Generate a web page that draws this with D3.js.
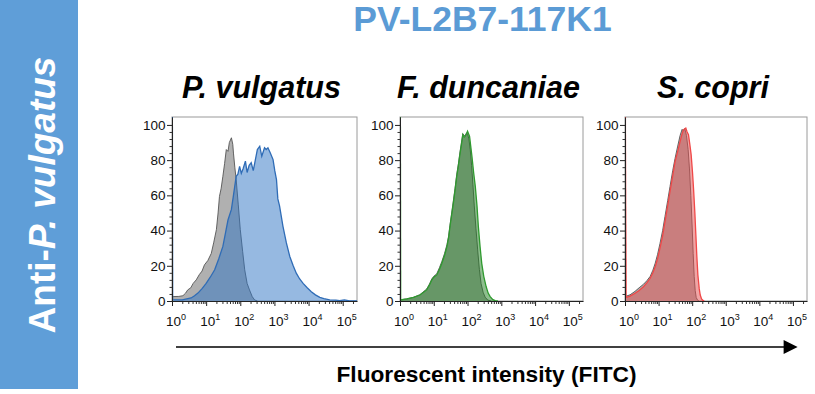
<!DOCTYPE html>
<html><head><meta charset="utf-8">
<script src="https://cdn.jsdelivr.net/npm/d3@7"></script>
<style>
html,body{margin:0;padding:0;background:#fff;}
svg{display:block;font-family:"Liberation Sans",Arial,sans-serif;}
</style></head>
<body>
<svg id="c" width="815" height="394"></svg>
<script>
// ---------------- DATA ----------------
const mainTitle = "PV-L2B7-117K1";
const sideLabelPlain = "Anti-";
const sideLabelItalic = "P. vulgatus";
const panelTitles = ["P. vulgatus", "F. duncaniae", "S. copri"];
const xAxisLabel = "Fluorescent intensity (FITC)";
const yTicks = [0, 20, 40, 60, 80, 100];
const xDecades = [0, 1, 2, 3, 4, 5];           // tick labels 10^n
const xMax = 262144;                             // upper end of the FITC axis
const yMax = 104.5;

// [log10 intensity, % of max]
const pvControl = [[0,2.5],[0.2,2.6],[0.32,3.0],[0.4,4.5],[0.46,6.3],[0.55,7.5],[0.62,10],[0.71,12],[0.8,15],[0.88,17],[0.95,20.5],[1.05,23],[1.15,27],[1.22,33],[1.30,40.5],[1.35,50],[1.39,59.4],[1.44,64],[1.49,70.8],[1.54,78],[1.59,86],[1.64,85],[1.68,90],[1.74,92.7],[1.78,89],[1.80,84],[1.84,76],[1.88,69],[1.94,55],[2.0,40.5],[2.07,28],[2.13,17.7],[2.2,10],[2.27,6.3],[2.35,2.5],[2.42,0.6],[2.5,0]];
const pvStain = [[0,110],[0.01,0.8],[0.3,0.6],[0.56,1.7],[0.66,3],[0.76,4.5],[0.88,7],[1.0,10],[1.12,13.5],[1.25,17.7],[1.37,24],[1.49,31],[1.57,39],[1.64,46],[1.74,52],[1.80,60],[1.88,70.8],[1.93,72],[1.98,76.5],[2.03,72.5],[2.08,75],[2.15,79.4],[2.20,73],[2.26,77],[2.32,78.5],[2.38,74],[2.44,80],[2.50,86],[2.57,87.9],[2.63,82.2],[2.71,87],[2.76,86],[2.81,87],[2.88,84],[2.96,80.3],[3.01,74],[3.06,69],[3.10,58],[3.15,54],[3.25,42.4],[3.35,33],[3.45,25.3],[3.55,20],[3.64,15.8],[3.74,12.5],[3.84,10],[3.96,7.5],[4.08,5.3],[4.2,3.5],[4.33,2.1],[4.45,1.4],[4.62,0.6],[4.8,0.5],[4.91,0.2],[5.05,0.6],[5.2,0],[5.42,0]];
const fdControl = [[0,0.6],[0.2,1.2],[0.4,2.1],[0.59,3.6],[0.79,6.8],[0.87,9.5],[0.94,12.5],[1.0,14],[1.09,15.5],[1.17,19],[1.24,22.5],[1.32,27],[1.39,32],[1.44,37],[1.48,43],[1.53,50],[1.58,57],[1.63,64],[1.68,72],[1.73,78],[1.78,85],[1.82,90],[1.86,95],[1.90,94],[1.93,94],[1.97,95.5],[2.0,95],[2.04,92],[2.08,86],[2.12,77],[2.16,66],[2.20,54],[2.25,41],[2.30,29],[2.35,18],[2.40,10],[2.46,5],[2.52,2.2],[2.6,0.5],[2.7,0]];
const fdStain = [[0,110],[0.01,0.6],[0.2,1.2],[0.4,2.1],[0.59,3.4],[0.79,6.3],[0.87,9],[0.94,11.9],[1.0,13.5],[1.09,14.8],[1.17,18],[1.24,21.4],[1.32,26],[1.39,30.9],[1.44,36],[1.48,42.3],[1.53,49],[1.58,55.6],[1.63,63],[1.68,70.8],[1.73,77],[1.78,84.1],[1.82,89],[1.86,94.5],[1.90,93],[1.93,93.5],[1.97,95],[2.0,96.4],[2.03,95],[2.06,93.5],[2.10,87],[2.13,82.2],[2.18,73],[2.23,65],[2.28,54],[2.32,42.3],[2.37,31],[2.42,21.4],[2.48,14],[2.55,8.2],[2.61,4.5],[2.67,2.5],[2.75,0.8],[2.82,0.2],[2.9,0]];
const scControl = [[0,2.5],[0.15,3.5],[0.3,5.5],[0.42,7.5],[0.55,9.5],[0.65,11.5],[0.75,14],[0.83,17.5],[0.9,21.5],[0.97,26.5],[1.04,32.5],[1.12,40],[1.19,48],[1.27,57],[1.34,65],[1.42,74],[1.49,81],[1.57,88],[1.64,94],[1.70,97.5],[1.74,96.5],[1.78,98],[1.83,94],[1.88,86],[1.92,75],[1.96,60],[2.0,42],[2.03,27],[2.06,14],[2.09,6],[2.12,2],[2.16,0.5],[2.2,0]];
const scStain = [[0,110],[0.02,1.9],[0.15,2.8],[0.3,4.4],[0.42,6],[0.55,8.1],[0.65,10.3],[0.75,12.9],[0.83,16],[0.9,19.5],[0.97,24],[1.04,29.9],[1.12,37],[1.19,45.1],[1.27,54],[1.34,62.2],[1.42,71],[1.49,79.2],[1.57,85],[1.64,90.6],[1.70,95],[1.74,97.2],[1.81,98.2],[1.85,96],[1.89,94.5],[1.93,89],[1.97,83],[2.01,73],[2.04,64],[2.08,50],[2.11,37.5],[2.14,25],[2.17,14.8],[2.21,7],[2.24,3.4],[2.28,1.2],[2.31,0.5],[2.36,0]];

const controls = [pvControl, fdControl, scControl];
const stains = [pvStain, fdStain, scStain];

// ---------------- STYLE / LAYOUT ----------------
const accent = "#5b9bd5";
const stainFill = ["rgb(45,115,195)", "rgb(30,125,30)", "rgb(225,75,75)"];
const stainStroke = ["#2f6cb6", "#2f9a2f", "#f04848"];
const panelLeft = [172, 400, 625];
const panelWidth = [185, 183, 182];
const plotTop = 117, plotBottom = 301;
const tickFont = 13.5;

const svg = d3.select("#c");

// left band
svg.append("rect").attr("x",0).attr("y",0).attr("width",78).attr("height",389).attr("fill","#5f9ed8");
const side = svg.append("text")
  .attr("transform","translate(55,195) rotate(-90)")
  .attr("text-anchor","middle")
  .attr("fill","#fff").attr("font-weight","bold").attr("font-size",37);
side.append("tspan").text(sideLabelPlain);
side.append("tspan").attr("font-style","italic").text(sideLabelItalic);

// main title
svg.append("text").attr("x",482.5).attr("y",31).attr("text-anchor","middle")
  .attr("fill",accent).attr("font-weight","bold").attr("font-size",35.5).text(mainTitle);

const y = d3.scaleLinear().domain([0,yMax]).range([plotBottom, plotTop]);

panelTitles.forEach((title, i) => {
  const x0 = panelLeft[i], w = panelWidth[i];
  const x = d3.scaleLog().domain([1, xMax]).range([x0, x0 + w]);
  const g = svg.append("g");

  // panel title
  g.append("text").attr("x", x0 + w/2 - 3).attr("y", 98).attr("text-anchor","middle")
    .attr("font-weight","bold").attr("font-style","italic").attr("font-size",30.5).attr("fill","#000").text(title);

  // frame
  g.append("rect").attr("x",x0).attr("y",plotTop).attr("width",w).attr("height",plotBottom-plotTop)
    .attr("fill","none").attr("stroke","#9a9a9a").attr("stroke-width",1);

  const clipId = "clip"+i;
  svg.append("clipPath").attr("id",clipId).append("rect")
    .attr("x",x0).attr("y",plotTop).attr("width",w).attr("height",plotBottom-plotTop);

  const area = d3.area().x(d => x(Math.pow(10,d[0]))).y0(y(0)).y1(d => y(d[1]));
  const line = d3.line().x(d => x(Math.pow(10,d[0]))).y(d => y(d[1]));
  const pg = g.append("g").attr("clip-path",`url(#${clipId})`);

  pg.append("path").datum(controls[i]).attr("d",area).attr("fill","#b0b0b0");
  pg.append("path").datum(controls[i]).attr("d",line).attr("fill","none").attr("stroke","#555").attr("stroke-width",0.9);
  pg.append("path").datum(stains[i]).attr("d",area).attr("fill",stainFill[i]).attr("fill-opacity",0.5);
  pg.append("path").datum(stains[i]).attr("d",line).attr("fill","none").attr("stroke",stainStroke[i]).attr("stroke-width",1.3);

  // x axis minor ticks
  const minors = [];
  for (let e = 0; e <= 5; e++) for (let m = 2; m <= 9; m++) { const v = m*Math.pow(10,e); if (v < xMax) minors.push(v); }
  g.append("g").attr("transform",`translate(0,${plotBottom})`)
    .call(d3.axisBottom(x).tickValues(minors).tickFormat("").tickSize(3).tickSizeOuter(0))
    .call(a => a.select(".domain").remove())
    .selectAll("line").attr("stroke","#333");
  const xa = g.append("g").attr("transform",`translate(0,${plotBottom})`)
    .call(d3.axisBottom(x).tickValues(xDecades.map(e => Math.pow(10,e))).tickFormat("").tickSize(5).tickSizeOuter(0));
  xa.select(".domain").attr("stroke","#222");
  xa.selectAll(".tick line").attr("stroke","#222");
  xa.selectAll(".tick").each(function(d){
    const t = d3.select(this).append("text").attr("x",3.5).attr("y",24.5).attr("text-anchor","middle")
      .attr("fill","#111").attr("font-size",tickFont).attr("font-family","'Liberation Sans',Arial,sans-serif");
    t.append("tspan").text("10");
    t.append("tspan").attr("font-size",9).attr("dy",-5.5).text(String(Math.round(Math.log10(d))));
  });

  // y axis
  const yMinors = d3.range(0, 101, 4).filter(v => v % 20 !== 0);
  g.append("g").attr("transform",`translate(${x0},0)`)
    .call(d3.axisLeft(y).tickValues(yMinors).tickFormat("").tickSize(2.5).tickSizeOuter(0))
    .call(a => a.select(".domain").remove())
    .selectAll("line").attr("stroke","#333");
  const ya = g.append("g").attr("transform",`translate(${x0},0)`)
    .call(d3.axisLeft(y).tickValues(yTicks).tickSize(5).tickSizeOuter(0));
  ya.select(".domain").attr("stroke","#222");
  ya.selectAll(".tick line").attr("stroke","#222");
  ya.selectAll(".tick text").attr("font-size",tickFont).attr("fill","#111").attr("x",-6.5)
    .attr("font-family","'Liberation Sans',Arial,sans-serif");

  // the leftmost stain bin rises along the left edge (redrawn on top)
  pg.append("path").datum(stains[i].slice(0,2)).attr("d",line).attr("fill","none").attr("stroke",stainStroke[i]).attr("stroke-width",2);
});

// arrow
svg.append("defs").append("marker").attr("id","arrowHead").attr("viewBox","0 0 10 10")
  .attr("refX",1).attr("refY",5).attr("markerWidth",18).attr("markerHeight",14)
  .attr("markerUnits","userSpaceOnUse").attr("orient","auto")
  .append("path").attr("d","M0,0 L10,5 L0,10 Z").attr("fill","#000");
svg.append("line").attr("x1",176).attr("x2",785).attr("y1",347).attr("y2",347)
  .attr("stroke","#000").attr("stroke-width",1.6).attr("marker-end","url(#arrowHead)");

svg.append("text").attr("x",486.5).attr("y",382).attr("text-anchor","middle")
  .attr("font-weight","bold").attr("font-size",22.7).attr("fill","#000").text(xAxisLabel);
</script>
</body></html>
